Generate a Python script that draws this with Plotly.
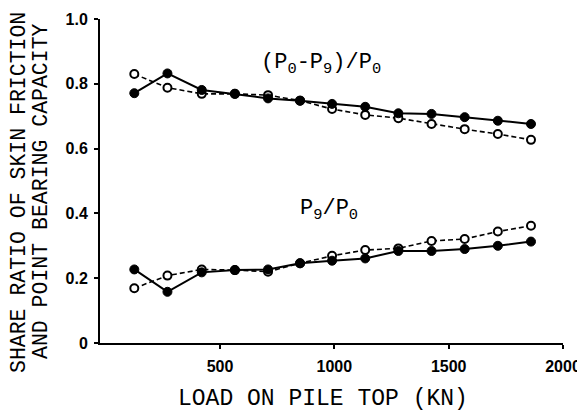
import plotly.graph_objects as go

load = [125, 270, 420, 565, 710, 850, 990, 1135, 1280, 1425, 1570, 1715, 1860]
skin_solid = [0.771, 0.832, 0.781, 0.769, 0.755, 0.748, 0.738, 0.729, 0.709, 0.707, 0.697, 0.686, 0.676]
skin_open = [0.830, 0.788, 0.769, 0.769, 0.765, 0.748, 0.722, 0.704, 0.694, 0.676, 0.660, 0.645, 0.627]
point_solid = [0.227, 0.158, 0.218, 0.225, 0.227, 0.246, 0.254, 0.261, 0.284, 0.284, 0.290, 0.300, 0.313]
point_open = [0.169, 0.208, 0.227, 0.225, 0.220, 0.246, 0.269, 0.287, 0.292, 0.315, 0.321, 0.344, 0.362]

x_ticks = [500, 1000, 1500, 2000]
y_ticks = [0, 0.2, 0.4, 0.6, 0.8, 1.0]
y_ticktext = ["0", "0.2", "0.4", "0.6", "0.8", "1.0"]

label_skin = "(P<sub>0</sub>-P<sub>9</sub>)/P<sub>0</sub>"
label_point = "P<sub>9</sub>/P<sub>0</sub>"
x_title = "LOAD ON PILE TOP (KN)"
y_title_1 = "SHARE RATIO OF SKIN FRICTION"
y_title_2 = "AND POINT BEARING CAPACITY"

fig = go.Figure()

def add_series(y, filled):
    if filled:
        fig.add_trace(go.Scatter(x=load, y=y, mode="lines+markers",
                                 line=dict(color="black", width=2),
                                 marker=dict(size=9, color="black",
                                             line=dict(color="black", width=1))))
    else:
        fig.add_trace(go.Scatter(x=load, y=y, mode="lines+markers",
                                 line=dict(color="black", width=1.6, dash="5px,3px"),
                                 marker=dict(size=8, color="white",
                                             line=dict(color="black", width=2))))

add_series(skin_open, False)
add_series(skin_solid, True)
add_series(point_open, False)
add_series(point_solid, True)

mono = "Liberation Mono, Courier New, monospace"

# the page body adds an 8px offset, so the figure is 8px smaller on each axis
fig.update_layout(
    width=577, height=404,
    margin=dict(l=92, r=22, t=11, b=69, autoexpand=False),
    paper_bgcolor="white", plot_bgcolor="white",
    showlegend=False,
    xaxis=dict(range=[-25, 2000], tickvals=x_ticks, showgrid=False, zeroline=False,
               showline=True, linecolor="black", linewidth=2, automargin=False,
               ticks="outside", ticklen=4, tickwidth=1.5, tickcolor="black",
               tickfont=dict(family="Liberation Sans, Arial", size=16, color="black", weight="bold"),
               ticklabelstandoff=4),
    yaxis=dict(range=[0, 1.0], tickvals=y_ticks, ticktext=y_ticktext, showgrid=False,
               zeroline=False, showline=True, linecolor="black", linewidth=2, automargin=False,
               ticks="outside", ticklen=4, tickwidth=1.5, tickcolor="black",
               tickfont=dict(family="Liberation Sans, Arial", size=16, color="black", weight="bold"),
               ticklabelstandoff=3),
    annotations=[
        dict(text=label_skin, x=942, y=0.862, xref="x", yref="y", showarrow=False,
             font=dict(family=mono, size=22, color="black"), xanchor="center", yanchor="middle"),
        dict(text=label_point, x=977, y=0.41, xref="x", yref="y", showarrow=False,
             font=dict(family=mono, size=22, color="black"), xanchor="center", yanchor="middle"),
        dict(text=x_title, x=(323 - 100) / 463, y=(343 - 399) / 324, xref="paper", yref="paper",
             showarrow=False, font=dict(family=mono, size=23, color="black"),
             xanchor="center", yanchor="middle"),
        dict(text=y_title_1, x=(19 - 100) / 463, y=(343 - 193) / 324, xref="paper", yref="paper",
             showarrow=False, textangle=-90, font=dict(family=mono, size=21.5, color="black"),
             xanchor="center", yanchor="middle"),
        dict(text=y_title_2, x=(41 - 100) / 463, y=(343 - 191) / 324, xref="paper", yref="paper",
             showarrow=False, textangle=-90, font=dict(family=mono, size=21.5, color="black"),
             xanchor="center", yanchor="middle"),
    ],
)

fig.write_html("out.html")
